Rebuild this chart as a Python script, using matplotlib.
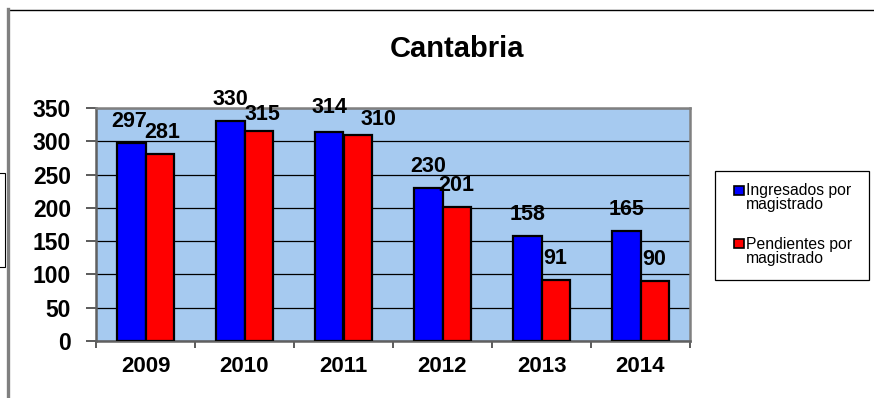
import matplotlib
matplotlib.use("Agg")
import matplotlib.pyplot as plt
from matplotlib.patches import Rectangle
from matplotlib.lines import Line2D
import numpy as np

# Data
years = ["2009", "2010", "2011", "2012", "2013", "2014"]
ingresados = [297, 330, 314, 230, 158, 165]
pendientes = [281, 315, 310, 201, 91, 90]
series_labels = [("Ingresados por", "magistrado"), ("Pendientes por", "magistrado")]
y_ticks = [0, 50, 100, 150, 200, 250, 300, 350]
title = "Cantabria"

# Label placement tweaks (pixels, dx, dy) so neighbouring labels don't collide
label_nudge = {(0, 0): (-2, 0), (1, 0): (3, 0),
               (0, 2): (0, 3), (1, 1): (4, -5), (1, 2): (21, -6)}

plt.rcParams['font.family'] = ['Liberation Sans', 'DejaVu Sans']

W, H = 874, 398
fig = plt.figure(figsize=(W / 100, H / 100), dpi=100)
fig.patch.set_facecolor('white')


def fx(px):
    return px / W


def fy(py):
    return 1 - py / H


BLUE = '#0000FF'
RED = '#FF0000'
GREY = '#808080'

ax = fig.add_axes([fx(96), fy(341), fx(690) - fx(96), fy(108) - fy(341)])
ax.set_facecolor('#A6CAF0')

x = np.arange(len(years))
w = 0.285
bars1 = ax.bar(x - w / 2, ingresados, w, color=BLUE, edgecolor='black',
               linewidth=1.6, zorder=3)
bars2 = ax.bar(x + w / 2, pendientes, w, color=RED, edgecolor='black',
               linewidth=1.6, zorder=3)

ax.set_xlim(-0.5, len(years) - 0.5)
ax.set_ylim(0, 350)
ax.set_yticks(y_ticks)
ax.set_yticklabels([str(v) for v in y_ticks], fontsize=16.5, fontweight='bold')
ax.yaxis.grid(True, color='black', linewidth=0.9, zorder=1)
ax.set_axisbelow(True)

# category boundaries carry the tick marks, labels sit at the centres
ax.set_xticks(np.arange(-0.5, len(years), 1.0))
ax.set_xticklabels([])
ax.set_xticks(x, minor=True)
ax.set_xticklabels(years, minor=True, fontsize=16, fontweight='bold')
ax.tick_params(axis='x', which='major', length=5, width=1.2, color='#404040',
               direction='out')
ax.tick_params(axis='x', which='minor', length=0, pad=11)
ax.tick_params(axis='y', length=7, width=1.2, color='#404040', direction='out',
               pad=11)

for side in ['top', 'right', 'left', 'bottom']:
    ax.spines[side].set_color(GREY)
    ax.spines[side].set_linewidth(1.8)
ax.spines['left'].set_color('#606060')
ax.spines['bottom'].set_color('#606060')

PX = 0.72  # points per pixel at 100 dpi
for si, (bars, vals) in enumerate(((bars1, ingresados), (bars2, pendientes))):
    for ci, (bar, v) in enumerate(zip(bars, vals)):
        dx, dy = label_nudge.get((si, ci), (0, 0))
        ax.annotate(str(v), (bar.get_x() + bar.get_width() / 2, v),
                    xytext=(dx * PX, (16 + dy) * PX), textcoords='offset points',
                    ha='center', va='baseline', fontsize=15.5,
                    fontweight='bold', zorder=5)

fig.text(fx(457), fy(57), title, ha='center', va='baseline',
         fontsize=21, fontweight='bold')

# Legend box
fig.add_artist(Rectangle((fx(715), fy(280)), fx(869) - fx(715), fy(171) - fy(280),
                         transform=fig.transFigure, facecolor='white',
                         edgecolor='black', linewidth=0.9))
entries = [(BLUE, 186, 195), (RED, 239, 249)]
for (col, sq_top, base), (l1, l2) in zip(entries, series_labels):
    fig.add_artist(Rectangle((fx(734), fy(sq_top + 9)), fx(744) - fx(734),
                             fy(sq_top) - fy(sq_top + 9),
                             transform=fig.transFigure, facecolor=col,
                             edgecolor='black', linewidth=1.2))
    fig.text(fx(746), fy(base), l1, ha='left', va='baseline', fontsize=11.3)
    fig.text(fx(746), fy(base + 14.5), l2, ha='left', va='baseline', fontsize=11.3)

# Surrounding frame lines
fig.add_artist(Line2D([fx(9), fx(874)], [fy(9.5), fy(9.5)],
                      transform=fig.transFigure, color='black', linewidth=1.0))
fig.add_artist(Line2D([fx(7.5), fx(7.5)], [fy(9), fy(398)],
                      transform=fig.transFigure, color=GREY, linewidth=2.4))
fig.add_artist(Rectangle((fx(-2), fy(267)), fx(5) - fx(-2), fy(173) - fy(267),
                         transform=fig.transFigure, facecolor='white',
                         edgecolor='black', linewidth=0.8))

fig.savefig('out.png', dpi=100)
